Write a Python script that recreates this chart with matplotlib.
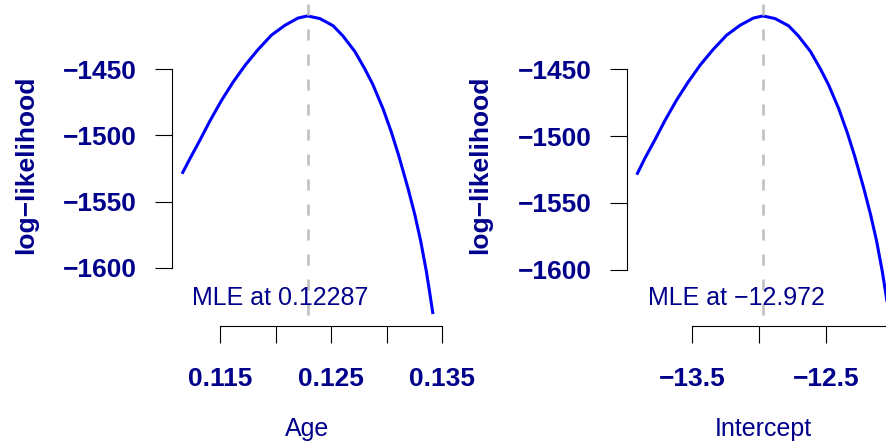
import numpy as np
import matplotlib
matplotlib.use("Agg")
import matplotlib.pyplot as plt

plt.rcParams["font.family"] = ["Liberation Sans", "DejaVu Sans"]
plt.rcParams["lines.scale_dashes"] = False

NAVY = "#00008B"

# profile log-likelihood for Age
age_x = [0.11159, 0.11231, 0.11321, 0.11410, 0.11514, 0.11617, 0.11729, 0.11843,
         0.11962, 0.12084, 0.12202, 0.12287, 0.12398, 0.12517, 0.12604, 0.12712,
         0.12802, 0.12874, 0.12966, 0.13041, 0.13107, 0.13190, 0.13251, 0.13304,
         0.13356, 0.13385, 0.13415]
age_ll = [-1529.0, -1517.4, -1503.4, -1489.0, -1473.5, -1459.8, -1446.6, -1435.0,
          -1424.2, -1416.7, -1411.2, -1409.6, -1411.6, -1417.0, -1424.6, -1436.4,
          -1449.6, -1461.4, -1479.8, -1497.5, -1515.2, -1539.8, -1559.6, -1579.6,
          -1603.0, -1618.5, -1635.1]

# profile log-likelihood for Intercept
int_x = [-13.910, -13.851, -13.776, -13.702, -13.616, -13.530, -13.437, -13.342,
         -13.243, -13.142, -13.043, -12.972, -12.881, -12.781, -12.709, -12.619,
         -12.545, -12.485, -12.408, -12.346, -12.291, -12.222, -12.172, -12.127,
         -12.084, -12.060, -12.035]
int_ll = [-1528.9, -1516.8, -1502.9, -1488.6, -1473.3, -1459.8, -1446.6, -1435.1,
          -1424.5, -1417.0, -1411.6, -1410.0, -1412.0, -1417.4, -1424.9, -1436.5,
          -1449.6, -1461.3, -1479.5, -1497.0, -1514.5, -1539.0, -1558.5, -1578.3,
          -1601.4, -1616.8, -1633.2]

mle_age = 0.12287
mle_int = -12.972

yticks = [-1600, -1550, -1500, -1450]
age_ticks = [0.115, 0.120, 0.125, 0.130, 0.135]
age_labels = ["0.115", "", "0.125", "", "0.135"]
int_ticks = [-13.5, -13.0, -12.5, -12.0]
int_labels = ["\u221213.5", "", "\u221212.5", ""]

W, H = 887, 444
fig = plt.figure(figsize=(W / 100, H / 100), dpi=100)


def r_lim(v):
    # R style 4% padding around the data range
    lo, hi = min(v), max(v)
    d = 0.04 * (hi - lo)
    return lo - d, hi + d


def panel(l, t, r, b, x, ll, mle, xt, xtl, xlab, mle_txt):
    ax = fig.add_axes([l / W, 1 - b / H, (r - l) / W, (b - t) / H])
    ax.plot(x, ll, color="#0000FF", lw=2.2, solid_capstyle="butt")
    ax.plot([mle, mle], [1, 0], transform=ax.get_xaxis_transform(),
            color="#C0C0C0", lw=1.9, dashes=(8, 10), clip_on=False)
    ax.set_xlim(*r_lim(x))
    ax.set_ylim(*r_lim(ll))
    for s in ["top", "right"]:
        ax.spines[s].set_visible(False)
    for s in ["left", "bottom"]:
        ax.spines[s].set_linewidth(0.8)
    ax.spines["left"].set_bounds(yticks[0], yticks[-1])
    ax.spines["bottom"].set_bounds(xt[0], xt[-1])
    ax.set_yticks(yticks)
    ax.set_yticklabels([str(v).replace("-", "\u2212") for v in yticks])
    ax.set_xticks(xt)
    ax.set_xticklabels(xtl)
    ax.tick_params(axis="both", length=12.2, width=0.8, color="black",
                   labelcolor=NAVY, labelsize=19)
    ax.tick_params(axis="y", pad=13)
    ax.tick_params(axis="x", pad=17)
    for lab in ax.get_xticklabels() + ax.get_yticklabels():
        lab.set_fontweight("bold")
    ax.set_ylabel("log\u2212likelihood", color=NAVY, fontsize=19, fontweight="bold")
    ax.yaxis.set_label_coords(-0.495, 0.5)
    ax.set_xlabel(xlab, color=NAVY, fontsize=18)
    ax.xaxis.set_label_coords(0.5, -0.283)
    ax.annotate(mle_txt, xy=(mle, 0.065), xycoords=("data", "axes fraction"),
                xytext=(-19.4, 0), textcoords="offset points",
                ha="center", va="baseline", color=NAVY, fontsize=18)
    return ax


panel(172, 4, 443, 326, age_x, age_ll, mle_age, age_ticks, age_labels,
      "Age", "MLE at 0.12287")
panel(626.7, 4, 899, 326, int_x, int_ll, mle_int, int_ticks, int_labels,
      "Intercept", "MLE at \u221212.972")

fig.savefig("out.png", dpi=100)
